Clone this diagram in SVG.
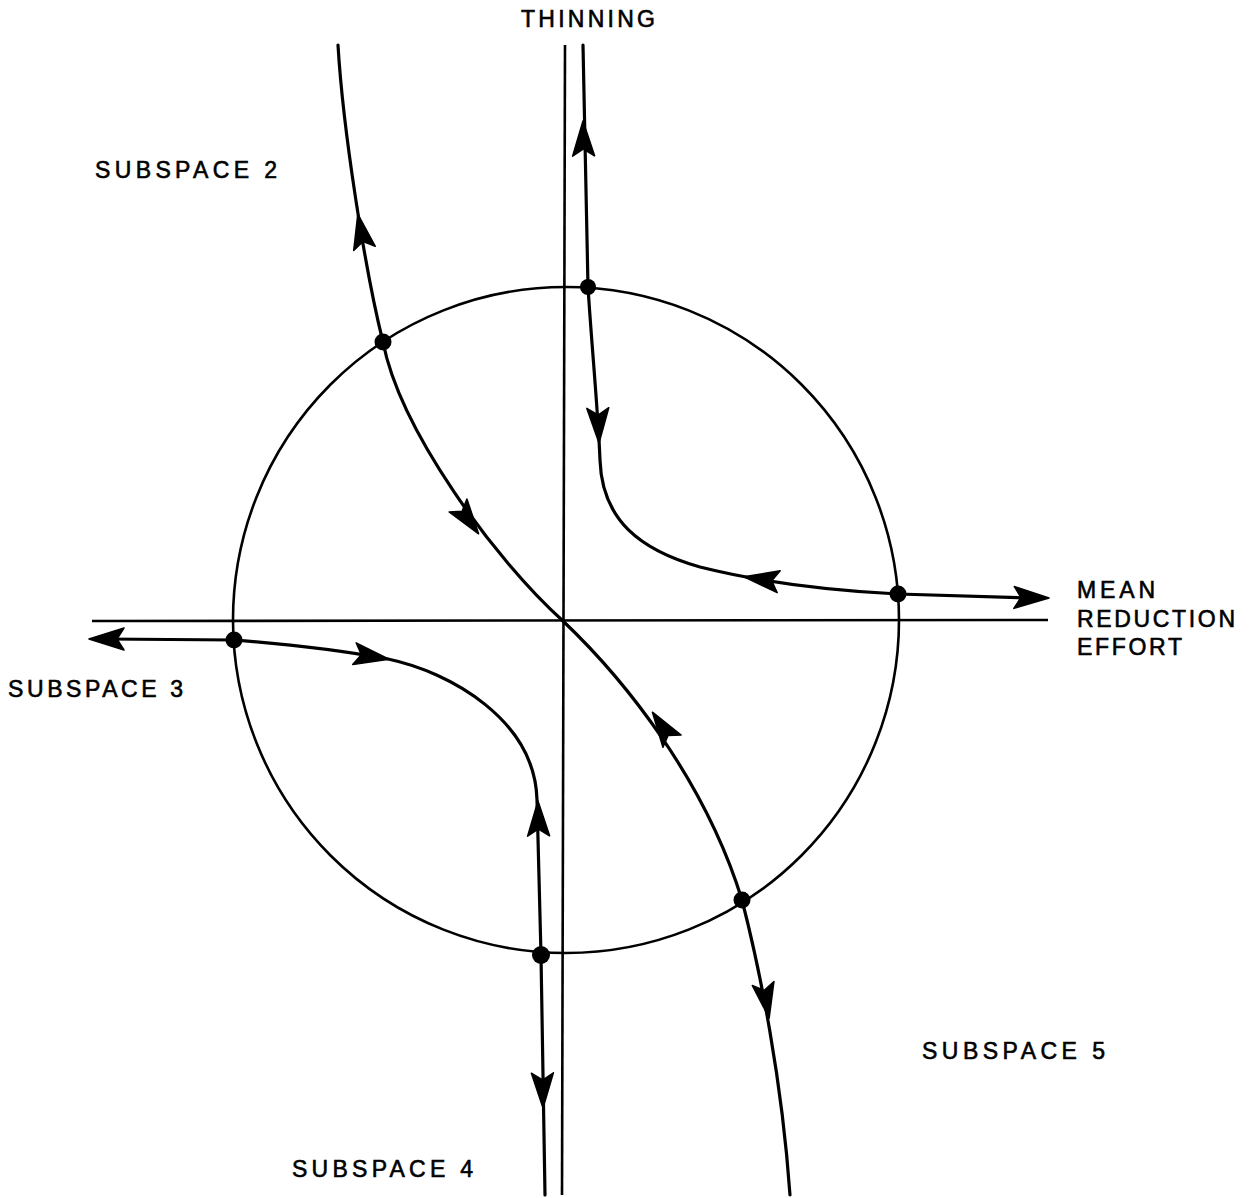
<svg xmlns="http://www.w3.org/2000/svg" xmlns:xlink="http://www.w3.org/1999/xlink" width="1256" height="1198" viewBox="0 0 1256 1198">
<style>
.ax{fill:none;stroke:#000;stroke-width:2.6}
.tr{fill:none;stroke:#000;stroke-width:3.2;stroke-linecap:round;stroke-linejoin:round}
.dot{fill:#000}
.lbl{font-family:"Liberation Sans",Arial,sans-serif;font-size:23px;fill:#000;stroke:#000;stroke-width:0.6}
</style>
<defs>
<path id="ah" d="M1,0 L-34,-11 L-27,0 L-34,11 Z" fill="#000" stroke="#000" stroke-width="1.5" stroke-linejoin="round"/>
</defs>
<rect width="1256" height="1198" fill="#fff"/>
<g id="axes">
<line class="ax" x1="565" y1="45" x2="562" y2="1195"/>
<line class="ax" x1="92" y1="621" x2="1048" y2="620"/>
</g>
<g id="circle">
<circle class="ax" cx="566" cy="620" r="333"/>
</g>
<g id="connectors">
<path class="tr" d="M338,45 C343,130 365,270 383,342 C400,430 495,560 563,621 C625,680 705,780 742,900 C760,970 782,1080 790,1195"/>
<path class="tr" d="M583,45 L588,287 C592,350 598,410 600,460 C602,520 640,550 700,567 C760,582 820,590 898,594 L1030,598"/>
<path class="tr" d="M105,639 L234,640 C300,645 350,652 388,659 C450,672 535,720 537,800 L541,955 L545,1195"/>
<use xlink:href="#ah" transform="translate(583,122) rotate(-91)"/>
<use xlink:href="#ah" transform="translate(358,215) rotate(-101)"/>
<use xlink:href="#ah" transform="translate(478,533) rotate(54)"/>
<use xlink:href="#ah" transform="translate(653,713) rotate(-124)"/>
<use xlink:href="#ah" transform="translate(769,1017) rotate(80)"/>
<use xlink:href="#ah" transform="translate(745,577) rotate(188)"/>
<use xlink:href="#ah" transform="translate(599,442) rotate(88)"/>
<use xlink:href="#ah" transform="translate(1048,598) rotate(1)"/>
<use xlink:href="#ah" transform="translate(90,639) rotate(180)"/>
<use xlink:href="#ah" transform="translate(388,659) rotate(9)"/>
<use xlink:href="#ah" transform="translate(538,802) rotate(-91)"/>
<use xlink:href="#ah" transform="translate(543,1107) rotate(89)"/>
</g>
<g id="dots">
<circle class="dot" cx="383" cy="342" r="8.5"/>
<circle class="dot" cx="588" cy="287" r="8"/>
<circle class="dot" cx="898" cy="594" r="8.5"/>
<circle class="dot" cx="234" cy="640" r="8.5"/>
<circle class="dot" cx="541" cy="955" r="9"/>
<circle class="dot" cx="742" cy="900" r="8.5"/>
</g>
<g id="labels">
<text class="lbl" x="521" y="27" textLength="134" lengthAdjust="spacing">THINNING</text>
<text class="lbl" x="95" y="178" textLength="182" lengthAdjust="spacing">SUBSPACE 2</text>
<text class="lbl" x="8" y="697" textLength="175" lengthAdjust="spacing">SUBSPACE 3</text>
<text class="lbl" x="292" y="1177" textLength="181" lengthAdjust="spacing">SUBSPACE 4</text>
<text class="lbl" x="922" y="1059" textLength="183" lengthAdjust="spacing">SUBSPACE 5</text>
<text class="lbl" x="1077" y="598" textLength="78" lengthAdjust="spacing">MEAN</text>
<text class="lbl" x="1077" y="627" textLength="158" lengthAdjust="spacing">REDUCTION</text>
<text class="lbl" x="1077" y="655" textLength="105" lengthAdjust="spacing">EFFORT</text>
</g>
</svg>
